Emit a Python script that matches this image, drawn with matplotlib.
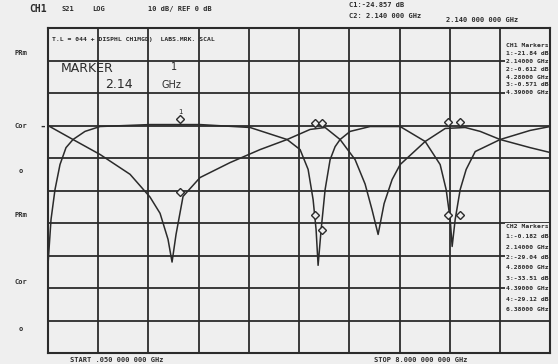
import matplotlib as mpl
mpl.use('Agg')
import matplotlib.pyplot as plt
import numpy as np

# sweep settings
f_start = 0.05   # GHz
f_stop = 8.0     # GHz
ref_db = 0.0
db_per_div = 10.0

# channel 1 trace (starts at ref, notches near 2.0 and 5.3 GHz)
ch1_freq = [0.05, 0.446, 0.874, 1.349, 1.665, 1.824, 1.950, 2.014, 2.077, 2.188,
            2.457, 2.932, 3.407, 3.835, 4.199, 4.437, 4.674, 4.912, 5.070, 5.181,
            5.276, 5.371, 5.498, 5.625, 6.021, 6.338, 6.654, 6.892, 7.208, 7.683, 8.0]
ch1_db = [0, -4.3, -8.9, -15, -22, -27, -35, -42, -33.5, -21.8,
          -16, -11.4, -7.4, -4.3, -1.2, -0.6, -4.3, -10.5, -18, -26,
          -33.5, -24, -16.6, -12, -4.9, -0.9, -0.6, -1.8, -4.3, -6.8, -8.3]

# channel 2 trace (notches near 0, 4.3 and 6.45 GHz)
ch2_freq = [0.05, 0.098, 0.161, 0.240, 0.335, 0.446, 0.636, 0.874, 1.665, 2.457,
            3.249, 3.835, 4.041, 4.168, 4.247, 4.294, 4.326, 4.374, 4.437, 4.516,
            4.595, 4.674, 4.833, 5.149, 5.625, 6.021, 6.258, 6.353, 6.417, 6.448,
            6.496, 6.575, 6.670, 6.813, 7.208, 7.683, 8.0]
ch2_db = [-42.8, -28.9, -19.7, -12, -6.8, -4.3, -1.8, -0.3, 0.3, 0.3,
          -0.6, -4.3, -7.4, -13.5, -22.8, -32, -43, -32, -19.7, -10.5,
          -6.5, -4.3, -1.8, -0.3, -0.3, -4.9, -12, -19.7, -28.9, -37.2,
          -28.9, -19.7, -13.5, -8, -4.3, -1.5, -0.3]

# markers (GHz) and where they sit on each trace
mk1_freq = [2.14, 4.28, 4.39, 6.38, 6.57]
mk1_db = [-21.8, -0.6, -0.6, -0.5, -0.5]
mk2_freq = [2.14, 4.28, 4.39, 6.38, 6.57]
mk2_db = [0.6, -29, -33.5, -29, -29]

ch1_list = ["CH1 Markers", "1:-21.84 dB", "2.14000 GHz", "2:-0.612 dB", "4.28000 GHz",
            "3:-0.571 dB", "4.39000 GHz"]
ch2_list = ["CH2 Markers", "1:-0.182 dB", "2.14000 GHz", "2:-29.04 dB", "4.28000 GHz",
            "3:-33.51 dB", "4.39000 GHz", "4:-29.12 dB", "6.38000 GHz"]

ink = '#2b2b2b'
paper = '#efefef'

fig = plt.figure(figsize=(5.58, 3.64), dpi=100)
fig.patch.set_facecolor(paper)
ax = fig.add_axes([0.086, 0.030, 0.90, 0.893])
ax.set_facecolor(paper)

top_db = ref_db + 3 * db_per_div
bot_db = ref_db - 7 * db_per_div
ax.set_xlim(f_start, f_stop)
ax.set_ylim(bot_db, top_db)

# graticule
xt = np.linspace(f_start, f_stop, 11)
yt = np.linspace(bot_db, top_db, 11)
for x in xt:
    ax.axvline(x, color=ink, lw=1.3, zorder=1)
for y in yt:
    ax.axhline(y, color=ink, lw=1.3, zorder=1)
ax.set_xticks([])
ax.set_yticks([])
for s in ax.spines.values():
    s.set_color(ink)
    s.set_linewidth(1.5)

# traces
ax.plot(ch1_freq, ch1_db, color=ink, lw=1.1, zorder=3)
ax.plot(ch2_freq, ch2_db, color=ink, lw=1.1, zorder=3)

# markers
for f, d in zip(mk1_freq, mk1_db):
    ax.plot(f, d + 1.5, marker='D', ms=4, mfc=paper, mec=ink, mew=1.0, zorder=4)
for f, d in zip(mk2_freq, mk2_db):
    ax.plot(f, d + 1.5, marker='D', ms=4, mfc=paper, mec=ink, mew=1.0, zorder=4)
ax.text(2.14, 3.2, "1", fontsize=5, color=ink, ha='center', va='bottom', zorder=5)

# text in the graticule
tk = dict(color=ink, fontsize=4.6, family='DejaVu Sans Mono', fontweight='bold')
ax.text(0.12, 26.5, "T.L = 044 + DISPHL CH1MGD)  LABS.MRK. SCAL", va='center', **tk)
ax.text(0.25, 17.5, "MARKER", fontsize=9, color=ink, va='center', family='DejaVu Sans')
ax.text(2.0, 18.0, "1", fontsize=7, color=ink, va='center', family='DejaVu Sans')
ax.text(0.95, 12.5, "2.14", fontsize=9, color=ink, va='center', family='DejaVu Sans')
ax.text(1.85, 12.5, "GHz", fontsize=7, color=ink, va='center', family='DejaVu Sans')

box = dict(boxstyle='square,pad=0.05', fc=paper, ec='none')
for k, s in enumerate(ch1_list):
    ax.text(7.97, 24.5 - k * 2.4, s, ha='right', va='center', zorder=6, bbox=box, **tk)
for k, s in enumerate(ch2_list):
    ax.text(7.97, -31.0 - k * 3.2, s, ha='right', va='center', zorder=6, bbox=box, **tk)

# header and footer
ft = dict(color=ink, fontsize=5, family='DejaVu Sans Mono', fontweight='bold')
fig.text(0.052, 0.975, "CH1", va='center', fontsize=7, color=ink, family='DejaVu Sans Mono',
         fontweight='bold')
fig.text(0.11, 0.975, "S21", va='center', **ft)
fig.text(0.165, 0.975, "LOG", va='center', **ft)
fig.text(0.265, 0.975, "10 dB/ REF 0 dB", va='center', **ft)
fig.text(0.625, 0.985, "C1:-24.857 dB", va='center', **ft)
fig.text(0.625, 0.955, "C2: 2.140 000 GHz", va='center', **ft)
fig.text(0.80, 0.945, "2.140 000 000 GHz", va='center', **ft)
fig.text(0.125, 0.012, "START .050 000 000 GHz", va='center', **ft)
fig.text(0.67, 0.012, "STOP 8.000 000 000 GHz", va='center', **ft)

# left annotations
for yy, s in [(0.855, "PRm"), (0.653, "Cor"), (0.53, "o"), (0.41, "PRm"),
              (0.225, "Cor"), (0.097, "o")]:
    fig.text(0.038, yy, s, ha='center', va='center', **ft)
fig.text(0.077, 0.653, "-", ha='center', va='center', fontsize=8, color=ink, fontweight='bold')

plt.savefig('out.png', dpi=100, facecolor=paper)
